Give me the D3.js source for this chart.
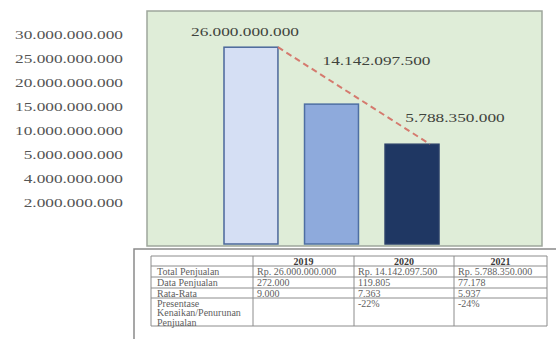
<!DOCTYPE html>
<html>
<head>
<meta charset="utf-8">
<script src="https://cdn.jsdelivr.net/npm/d3@7"></script>
<style>
  body { margin: 0; background: #fff; }
  svg { display: block; font-family: "Liberation Serif", "Times New Roman", serif; }
  .ylabel text { fill: #555; font-size: 13px; font-family: "Liberation Serif", serif; }
  .value-label { fill: #3f443d; font-size: 13px; font-family: "Liberation Serif", serif; }
  .cell { fill: #606060; font-size: 10px; }
  .head { fill: #3a3a3a; font-size: 10px; font-weight: bold; }
</style>
</head>
<body>
<div id="chart"></div>
<script>
// data
var years = ["2019", "2020", "2021"];
var sales = [26000000000, 14142097500, 5788350000];
var tickValues = [30000000000, 25000000000, 20000000000, 15000000000, 10000000000, 5000000000, 4000000000, 2000000000];
var rowLabels = ["Total Penjualan", "Data Penjualan", "Rata-Rata", "Presentase|Kenaikan/Penurunan|Penjualan"];
var salesCount = [272000, 119805, 77178];
var average = [9000, 7363, 5937];
var percentChange = ["", "-22%", "-24%"];

var barColors = ["#d5dff4", "#8eaadc", "#1f3763"];
var barStrokes = ["#4b679a", "#4e6fa3", "#2a3f68"];

function init() {
    var w = 556, h = 339;
    var svg = d3.select("#chart").append("svg")
        .attr("width", w)
        .attr("height", h);

    var id = d3.formatLocale({ decimal: ",", thousands: ".", grouping: [3], currency: ["Rp. ", ""] });
    var fmt = id.format(",");

    // plot box
    var box = { x: 147, y: 11, w: 395, h: 235 };
    svg.append("rect")
        .attr("x", box.x).attr("y", box.y)
        .attr("width", box.w).attr("height", box.h)
        .attr("fill", "#dfedd8")
        .attr("stroke", "#9ea69c")
        .attr("stroke-width", 1.5);

    // scales: the tick labels are evenly spaced, so the value scale is piecewise
    var step = 24;
    var top = 28;
    var base = 244;
    var dom = [0].concat(tickValues.slice().reverse());
    var rng = [base].concat(tickValues.map(function (d, i) { return top + i * step; }).reverse());
    var yScale = d3.scaleLinear().domain(dom).range(rng);

    var xScale = d3.scaleBand()
        .domain(years)
        .range([224, 439])
        .paddingInner(0.33)
        .paddingOuter(0);

    // y labels
    var yAxis = d3.axisLeft(yScale)
        .tickValues(tickValues)
        .tickSize(0)
        .tickPadding(0)
        .tickFormat(fmt);

    var yg = svg.append("g")
        .attr("class", "ylabel")
        .attr("transform", "translate(123,0)")
        .call(yAxis)
        .attr("font-family", null)
        .attr("font-size", null);
    yg.select(".domain").remove();
    yg.selectAll("text")
        .attr("y", 6)
        .attr("fill", null)
        .attr("transform", "scale(1.33,1)");

    // bars
    svg.selectAll(".bar")
        .data(years)
        .enter().append("rect")
        .attr("class", "bar")
        .attr("x", d => xScale(d))
        .attr("y", (d, i) => yScale(sales[i]))
        .attr("width", xScale.bandwidth())
        .attr("height", (d, i) => yScale(0) - yScale(sales[i]))
        .attr("fill", (d, i) => barColors[i])
        .attr("stroke", (d, i) => barStrokes[i])
        .attr("stroke-width", 1.5);

    // dashed trend line from the first bar to the last
    var last = years.length - 1;
    var trend = [
        [xScale(years[0]) + xScale.bandwidth(), yScale(sales[0])],
        [xScale(years[last]) + xScale.bandwidth() - 9, yScale(sales[last])]
    ];
    svg.append("path")
        .datum(trend)
        .attr("d", d3.line())
        .attr("fill", "none")
        .attr("stroke", "#d57a6e")
        .attr("stroke-width", 2)
        .attr("stroke-dasharray", "6,4");

    // value labels
    var labelOffset = [[-6, -16], [45, -44], [43, -27]];
    svg.selectAll(".value-label")
        .data(years)
        .enter().append("g")
        .attr("transform", (d, i) => "translate(" + (xScale(d) + xScale.bandwidth() / 2 + labelOffset[i][0]) + "," + (yScale(sales[i]) + labelOffset[i][1]) + ") scale(1.33,1)")
        .append("text")
        .attr("class", "value-label")
        .attr("text-anchor", "middle")
        .attr("dy", "0.35em")
        .text((d, i) => fmt(sales[i]));

    // table frame
    svg.append("path")
        .attr("d", "M134,339V249H556")
        .attr("fill", "none")
        .attr("stroke", "#8a8a8a")
        .attr("stroke-width", 1.5);

    var colX = [151, 253, 354, 454, 547];
    var rowY = [256, 266, 277, 288, 298, 326];
    var tg = svg.append("g");

    // grid lines
    rowY.forEach(function (y) {
        tg.append("line").attr("x1", colX[0]).attr("x2", colX[4]).attr("y1", y).attr("y2", y)
            .attr("stroke", "#8c8c8c").attr("stroke-width", 1);
    });
    colX.forEach(function (x) {
        tg.append("line").attr("x1", x).attr("x2", x).attr("y1", rowY[0]).attr("y2", rowY[5])
            .attr("stroke", "#8c8c8c").attr("stroke-width", 1);
    });

    // header
    years.forEach(function (yr, i) {
        tg.append("text").attr("class", "head")
            .attr("x", (colX[i + 1] + colX[i + 2]) / 2)
            .attr("y", rowY[0] + 8.5)
            .attr("text-anchor", "middle")
            .text(yr);
    });

    var rows = [
        sales.map(v => "Rp. " + fmt(v)),
        salesCount.map(fmt),
        average.map(fmt),
        percentChange
    ];

    rowLabels.forEach(function (lab, r) {
        var t = tg.append("text").attr("class", "cell")
            .attr("x", colX[0] + 6)
            .attr("y", rowY[r + 1] + 8.5);
        lab.split("|").forEach(function (line, k) {
            t.append("tspan").attr("x", colX[0] + 6).attr("dy", k === 0 ? 0 : 9.5).text(line);
        });
        rows[r].forEach(function (val, c) {
            tg.append("text").attr("class", "cell")
                .attr("x", colX[c + 1] + 4)
                .attr("y", rowY[r + 1] + 8.5)
                .text(val);
        });
    });
}

init();
</script>
</body>
</html>
